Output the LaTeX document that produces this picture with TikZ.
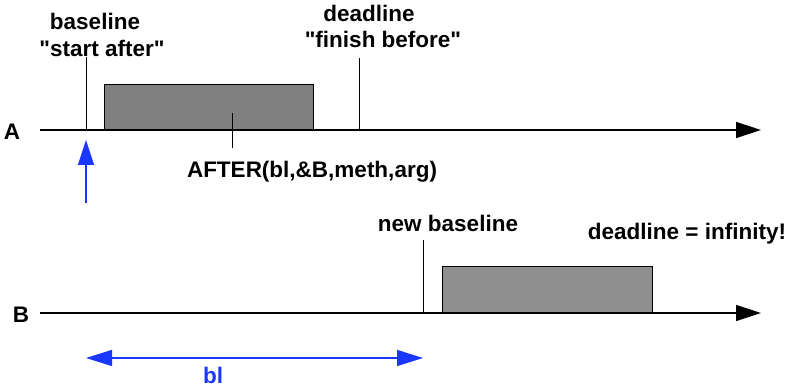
\documentclass[tikz,border=0pt]{standalone}
\usepackage{fontspec}
\setmainfont{Liberation Sans}[Ligatures=TeXOff]
\usetikzlibrary{arrows.meta}
\definecolor{arrowblue}{RGB}{25,55,255}
\definecolor{boxgrayA}{RGB}{128,128,128}
\definecolor{boxgrayB}{RGB}{143,143,143}
\begin{document}
\begin{tikzpicture}[x=1pt,y=-1pt,
  lbl/.style={font=\bfseries\fontsize{22.5}{26}\selectfont, inner sep=0pt, anchor=base},
  axis/.style={line width=1.4pt, -{Triangle[length=25pt,width=16pt]}},
  tick/.style={line width=1pt},
  task/.style={draw=black, line width=1pt, inner sep=0pt, anchor=south west},
  blarrow/.style={draw=arrowblue, line width=1.4pt}
]
\useasboundingbox (0,0) rectangle (789,387);
% timeline A
\coordinate (a0) at (40,130);
\coordinate (a1) at (761,130);
\draw[axis] (a0) -- (a1);
\node[lbl] (la) at (12,140) {A};
\node[task, fill=boxgrayA, minimum width=209pt, minimum height=45pt] (boxA) at (104,130) {};
\coordinate (blA) at (86,130);
\coordinate (blAtop) at (86,57);
\draw[tick] (blA) -- (blAtop);
\coordinate (dlA) at (359,130);
\coordinate (dlAtop) at (359,58);
\draw[tick] (dlA) -- (dlAtop);
\coordinate (pA1) at (232,113);
\coordinate (pA2) at (232,148);
\draw[tick] (pA1) -- (pA2);
\node[lbl] (t1) at (95,30) {baseline};
\node[lbl] (t2) at (102,57) {"start after"};
\node[lbl] (t3) at (369,22) {deadline};
\node[lbl] (t4) at (383,48) {"finish before"};
\node[lbl] (t5) at (312,178) {AFTER(bl,\&B,meth,arg)};
% blue up arrow
\coordinate (up0) at (86,203);
\coordinate (up1) at (86,140);
\draw[blarrow, -{Triangle[length=25pt,width=16pt]}] (up0) -- (up1);
% timeline B
\coordinate (b0) at (40,313);
\coordinate (b1) at (761,313);
\draw[axis] (b0) -- (b1);
\node[lbl] (lb) at (21,322) {B};
\node[task, fill=boxgrayB, minimum width=210pt, minimum height=46pt] (boxB) at (442,313) {};
\coordinate (nb) at (423,313);
\coordinate (nbtop) at (423,240);
\draw[tick] (nb) -- (nbtop);
\node[lbl] (t6) at (448,232) {new baseline};
\node[lbl] (t7) at (687,240) {deadline = infinity!};
% blue double arrow
\coordinate (d0) at (86,358);
\coordinate (d1) at (423,358);
\draw[blarrow, {Triangle[length=26pt,width=16pt]}-{Triangle[length=26pt,width=16pt]}] (d0) -- (d1);
\node[lbl, text=arrowblue] (t8) at (213,383) {bl};
\end{tikzpicture}
\end{document}
